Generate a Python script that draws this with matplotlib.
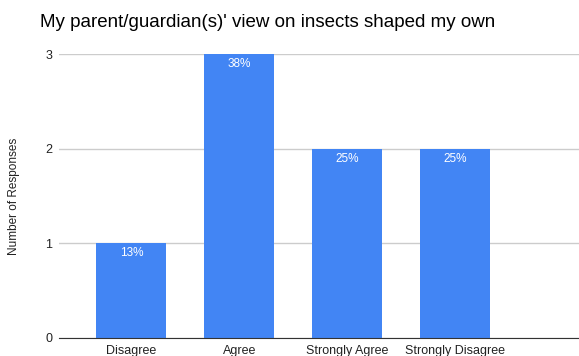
import matplotlib.pyplot as plt

plt.rcParams['font.family'] = ['Liberation Sans', 'DejaVu Sans']

categories = ['Disagree', 'Agree', 'Strongly Agree', 'Strongly Disagree']
responses = [1, 3, 2, 2]
percents = ['13%', '38%', '25%', '25%']

fig = plt.figure(figsize=(5.79, 3.56), dpi=100)
ax = fig.add_axes([0.102, 0.0506, 0.898, 0.797])

bars = ax.bar(range(len(categories)), responses, width=0.65, color='#4285F4', zorder=3)
for b, p in zip(bars, percents):
    ax.text(b.get_x() + b.get_width() / 2, b.get_height() - 0.04, p,
            ha='center', va='top', color='white', fontsize=8.5, zorder=4)

ax.set_xlim(-0.67, 4.15)
ax.set_ylim(0, 3)
ax.set_yticks([0, 1, 2, 3])
ax.set_xticks(range(len(categories)))
ax.set_xticklabels(categories, fontsize=9, color='#222222')
ax.tick_params(axis='y', length=0, labelsize=9, pad=5, labelcolor='#222222')
ax.tick_params(axis='x', length=0, pad=5)
ax.grid(axis='y', color='#cccccc', linewidth=1, zorder=0)
for s in ['top', 'right', 'left']:
    ax.spines[s].set_visible(False)
ax.spines['bottom'].set_color('#333333')
ax.spines['bottom'].set_zorder(5)

ax.set_ylabel('Number of Responses', fontsize=8.5, color='#222222')
ax.yaxis.set_label_coords(-0.075, 0.5)
fig.text(0.462, 0.938, "My parent/guardian(s)' view on insects shaped my own",
         ha='center', va='center', fontsize=13.5)

fig.savefig('out.png', dpi=100)
